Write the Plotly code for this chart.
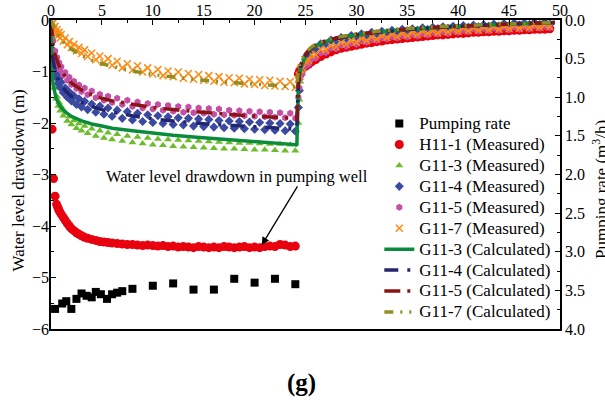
import plotly.graph_objects as go

# ---------------- data ----------------
# pumping period times (h) used for the observation wells
t_pump = [0.05, 0.1, 0.2, 0.3, 0.4, 0.5, 0.6, 0.7, 0.8, 0.9, 1.0, 1.2, 1.4, 1.6, 1.8, 2.0,
          2.25, 2.5, 2.75, 3.0, 3.3, 3.6, 4.0, 4.4, 4.8, 5.2, 5.6, 6.0, 6.5, 7.0, 7.5, 8.0,
          8.5, 9.0, 9.5, 10.0, 10.5, 11.0, 11.5, 12.0, 12.5, 13.0, 13.5, 14.0, 14.5, 15.0,
          15.5, 16.0, 16.5, 17.0, 17.5, 18.0, 18.5, 19.0, 19.5, 20.0, 20.5, 21.0, 21.5,
          22.0, 22.5, 23.0, 23.5, 24.0]
# recovery period times (h)
t_rec = [24.3, 24.4, 24.5, 24.7, 25.0, 25.3, 25.6, 26.0, 26.5, 27.0, 27.5, 28.0, 28.5,
         29.0, 29.5, 30.0, 30.5, 31.0, 31.5, 32.0, 32.5, 33.0, 33.5, 34.0, 34.5, 35.0,
         35.5, 36.0, 36.5, 37.0, 37.5, 38.0, 38.5, 39.0, 39.5, 40.0, 40.5, 41.0, 41.5,
         42.0, 42.5, 43.0, 43.5, 44.0, 44.5, 45.0, 45.5, 46.0, 46.5, 47.0, 47.5, 48.0,
         48.5, 49.0]
# pumping well H11-1 times (pumping part)
t_h11_pump = [0.1, 0.25, 0.4, 0.55, 0.65, 0.75, 0.85, 1.0, 1.2, 1.4, 1.6, 1.8, 2.0, 2.25,
              2.5, 2.75, 3.0, 3.3, 3.6, 4.0, 4.4, 4.8, 5.2, 5.6, 6.0, 6.5, 7.0, 7.5, 8.0,
              8.5, 9.0, 9.5, 10.0, 10.5, 11.0, 11.5, 12.0, 12.5, 13.0, 13.5, 14.0, 14.5,
              15.0, 15.5, 16.0, 16.5, 17.0, 17.5, 18.0, 18.5, 19.0, 19.5, 20.0, 20.5, 21.0,
              21.5, 22.0, 22.5, 23.0, 23.5, 24.0]

h11_pump = [-2.12, -3.08, -3.42, -3.58, -3.63, -3.68, -3.72, -3.77, -3.83, -3.89, -3.95,
            -4.0, -4.05, -4.09, -4.13, -4.16, -4.19, -4.22, -4.24, -4.26, -4.28, -4.3, -4.31,
            -4.32, -4.33, -4.34, -4.35, -4.36, -4.36, -4.37, -4.38, -4.37, -4.38, -4.39,
            -4.38, -4.4, -4.39, -4.41, -4.4, -4.41, -4.42, -4.4, -4.41, -4.42, -4.41, -4.42,
            -4.4, -4.41, -4.42, -4.41, -4.4, -4.42, -4.41, -4.42, -4.4, -4.39, -4.4, -4.36,
            -4.37, -4.4, -4.39]
h11_rec = [-1.05, -1.0, -0.97, -0.93, -0.9, -0.86, -0.81, -0.77, -0.71, -0.66, -0.62, -0.58,
           -0.55, -0.53, -0.51, -0.49, -0.47, -0.45, -0.44, -0.42, -0.41, -0.39, -0.38, -0.37,
           -0.36, -0.35, -0.34, -0.33, -0.32, -0.31, -0.3, -0.29, -0.29, -0.28, -0.27, -0.26,
           -0.26, -0.25, -0.24, -0.24, -0.23, -0.23, -0.22, -0.22, -0.21, -0.21, -0.2, -0.2,
           -0.19, -0.19, -0.18, -0.18, -0.18, -0.17]

g113_pump = [-0.45, -0.81, -0.99, -1.31, -1.32, -1.53, -1.49, -1.67, -1.6, -1.76, -1.68, -1.86,
             -1.8, -1.96, -1.88, -2.03, -1.95, -2.1, -2.01, -2.15, -2.06, -2.2, -2.11, -2.25,
             -2.15, -2.29, -2.19, -2.32, -2.22, -2.35, -2.25, -2.38, -2.27, -2.4, -2.29, -2.42,
             -2.31, -2.43, -2.32, -2.45, -2.33, -2.46, -2.34, -2.47, -2.35, -2.48, -2.36, -2.49,
             -2.37, -2.5, -2.38, -2.5, -2.39, -2.51, -2.39, -2.52, -2.4, -2.52, -2.41, -2.53,
             -2.41, -2.54, -2.42, -2.54]
g113_rec = [-2.0, -1.55, -1.2, -0.97, -0.8, -0.7, -0.62, -0.55, -0.49, -0.45, -0.41, -0.38,
            -0.36, -0.34, -0.32, -0.3, -0.29, -0.27, -0.26, -0.25, -0.24, -0.23, -0.22, -0.21,
            -0.2, -0.19, -0.18, -0.18, -0.17, -0.16, -0.16, -0.15, -0.14, -0.14, -0.13, -0.13,
            -0.12, -0.12, -0.11, -0.11, -0.1, -0.1, -0.1, -0.09, -0.09, -0.09, -0.08, -0.08,
            -0.08, -0.07, -0.07, -0.07, -0.06, -0.06]

g114_pump = [-0.3, -0.57, -0.65, -0.93, -0.89, -1.11, -1.03, -1.23, -1.13, -1.31, -1.21, -1.41,
             -1.32, -1.5, -1.4, -1.57, -1.47, -1.64, -1.53, -1.69, -1.58, -1.74, -1.63, -1.79,
             -1.67, -1.83, -1.71, -1.87, -1.75, -1.91, -1.78, -1.94, -1.81, -1.97, -1.84, -1.99,
             -1.86, -2.01, -1.88, -2.03, -1.9, -2.04, -1.91, -2.06, -1.92, -2.07, -1.93, -2.08,
             -1.95, -2.09, -1.96, -2.1, -1.97, -2.11, -1.98, -2.12, -1.99, -2.13, -2.0, -2.14,
             -2.01, -2.15, -2.02, -2.16]
g114_rec = [-1.7, -1.37, -1.08, -0.94, -0.76, -0.7, -0.58, -0.56, -0.46, -0.46, -0.39, -0.4,
            -0.34, -0.36, -0.3, -0.32, -0.27, -0.3, -0.24, -0.27, -0.22, -0.25, -0.2, -0.23,
            -0.18, -0.21, -0.17, -0.2, -0.15, -0.19, -0.14, -0.17, -0.13, -0.16, -0.12, -0.15,
            -0.11, -0.14, -0.1, -0.13, -0.09, -0.12, -0.08, -0.12, -0.07, -0.11, -0.06, -0.1,
            -0.06, -0.09, -0.05, -0.09, -0.04, -0.08]

g115_pump = [-0.15, -0.35, -0.41, -0.61, -0.6, -0.77, -0.73, -0.88, -0.83, -0.97, -0.91, -1.07,
             -1.02, -1.17, -1.11, -1.25, -1.19, -1.33, -1.26, -1.39, -1.32, -1.45, -1.38, -1.51,
             -1.44, -1.56, -1.48, -1.6, -1.52, -1.64, -1.56, -1.68, -1.59, -1.71, -1.62, -1.73,
             -1.64, -1.75, -1.66, -1.77, -1.68, -1.79, -1.69, -1.8, -1.71, -1.81, -1.72, -1.83,
             -1.73, -1.84, -1.75, -1.85, -1.76, -1.86, -1.77, -1.87, -1.78, -1.88, -1.79, -1.89,
             -1.8, -1.9, -1.81, -1.91]
g115_rec = [-1.5, -1.32, -1.13, -1.04, -0.9, -0.86, -0.76, -0.74, -0.64, -0.63, -0.55, -0.56,
            -0.49, -0.51, -0.45, -0.47, -0.41, -0.43, -0.38, -0.4, -0.35, -0.37, -0.32, -0.35,
            -0.3, -0.33, -0.28, -0.31, -0.26, -0.29, -0.24, -0.27, -0.23, -0.26, -0.21, -0.24,
            -0.2, -0.23, -0.18, -0.22, -0.17, -0.21, -0.16, -0.2, -0.15, -0.19, -0.14, -0.18,
            -0.13, -0.17, -0.12, -0.16, -0.12, -0.15]

g117_pump = [-0.02, -0.07, -0.06, -0.17, -0.12, -0.25, -0.19, -0.3, -0.24, -0.35, -0.28, -0.41,
             -0.35, -0.48, -0.42, -0.54, -0.47, -0.6, -0.53, -0.65, -0.58, -0.71, -0.64, -0.77,
             -0.7, -0.83, -0.75, -0.88, -0.8, -0.93, -0.85, -0.97, -0.89, -1.01, -0.93, -1.05,
             -0.96, -1.08, -0.99, -1.1, -1.01, -1.13, -1.04, -1.15, -1.06, -1.17, -1.08, -1.19,
             -1.1, -1.21, -1.12, -1.22, -1.13, -1.24, -1.15, -1.25, -1.16, -1.27, -1.17, -1.28,
             -1.19, -1.29, -1.2, -1.31]
g117_rec = [-1.15, -1.08, -0.96, -0.93, -0.8, -0.78, -0.68, -0.67, -0.57, -0.58, -0.5, -0.52,
            -0.44, -0.47, -0.4, -0.43, -0.36, -0.4, -0.33, -0.37, -0.31, -0.34, -0.28, -0.32,
            -0.26, -0.3, -0.24, -0.28, -0.22, -0.26, -0.21, -0.25, -0.19, -0.23, -0.18, -0.22,
            -0.16, -0.21, -0.15, -0.2, -0.14, -0.19, -0.13, -0.18, -0.12, -0.17, -0.11, -0.16,
            -0.11, -0.15, -0.1, -0.14, -0.09, -0.13]

# calculated curves
t_calc = [0, 0.05, 0.1, 0.2, 0.35, 0.5, 0.75, 1, 1.5, 2, 3, 4, 5, 6, 8, 10, 12, 14, 16, 18,
          20, 22, 24, 24.15, 24.3, 24.5, 25, 25.5, 26, 27, 28, 29, 30, 32, 34, 36, 38, 40,
          42, 44, 46, 48, 49.5]
g113_calc = [0, -0.7, -1.0, -1.25, -1.42, -1.52, -1.62, -1.7, -1.8, -1.87, -1.96, -2.02, -2.06,
             -2.1, -2.15, -2.2, -2.24, -2.27, -2.3, -2.33, -2.36, -2.39, -2.42, -2.44, -1.3,
             -0.95, -0.7, -0.57, -0.5, -0.42, -0.36, -0.32, -0.29, -0.24, -0.2, -0.17, -0.14,
             -0.12, -0.1, -0.09, -0.07, -0.06, -0.05]
g114_calc = [0, -0.35, -0.55, -0.78, -0.95, -1.06, -1.18, -1.27, -1.39, -1.48, -1.6, -1.68,
             -1.74, -1.79, -1.86, -1.92, -1.96, -2.0, -2.03, -2.05, -2.07, -2.09, -2.11, -2.12,
             -1.25, -0.92, -0.68, -0.56, -0.49, -0.41, -0.36, -0.32, -0.29, -0.24, -0.2, -0.17,
             -0.14, -0.12, -0.1, -0.09, -0.07, -0.06, -0.05]
g115_calc = [0, -0.2, -0.33, -0.5, -0.65, -0.75, -0.87, -0.98, -1.12, -1.22, -1.36, -1.45,
             -1.52, -1.57, -1.64, -1.7, -1.74, -1.78, -1.81, -1.84, -1.87, -1.89, -1.91, -1.92,
             -1.15, -0.88, -0.66, -0.55, -0.48, -0.4, -0.35, -0.31, -0.28, -0.23, -0.19, -0.16,
             -0.14, -0.12, -0.1, -0.08, -0.07, -0.06, -0.05]
g117_calc = [0, -0.03, -0.06, -0.11, -0.18, -0.24, -0.32, -0.38, -0.49, -0.57, -0.69, -0.78,
             -0.85, -0.9, -0.99, -1.06, -1.11, -1.15, -1.19, -1.22, -1.25, -1.28, -1.3, -1.3,
             -0.95, -0.8, -0.64, -0.54, -0.47, -0.39, -0.34, -0.3, -0.27, -0.22, -0.18, -0.15,
             -0.13, -0.11, -0.09, -0.08, -0.07, -0.06, -0.05]

# pumping rate (m3/h)
t_q = [0.4, 1.1, 1.5, 2.0, 2.5, 3.0, 3.5, 4.0, 4.4, 4.9, 5.5, 6.0, 6.5, 7.0, 8.0, 10.0, 12.0,
       14.0, 16.0, 18.0, 20.0, 22.0, 24.0]
q_rate = [3.74, 3.67, 3.64, 3.74, 3.61, 3.54, 3.57, 3.59, 3.52, 3.55, 3.61, 3.55, 3.53, 3.51,
          3.48, 3.44, 3.41, 3.49, 3.49, 3.35, 3.40, 3.35, 3.42]

x_ticks = [0, 5, 10, 15, 20, 25, 30, 35, 40, 45, 50]
y_ticks = [-6, -5, -4, -3, -2, -1, 0]
y2_ticks = [0.0, 0.5, 1.0, 1.5, 2.0, 2.5, 3.0, 3.5, 4.0]

# ---------------- figure ----------------
FONT = "Liberation Serif, Times New Roman, serif"


def lg(name):
    return "<span style='font-size:17px'>" + name + "</span>"


fig = go.Figure()

fig.add_trace(go.Scatter(x=t_q, y=q_rate, yaxis="y2", mode="markers", name=lg("Pumping rate"),
                         marker=dict(symbol="square", size=8, color="black")))
fig.add_trace(go.Scatter(x=t_h11_pump + t_rec, y=h11_pump + h11_rec, mode="markers",
                         name=lg("H11-1 (Measured)"),
                         marker=dict(symbol="circle", size=9, color="#e8000f")))
fig.add_trace(go.Scatter(x=t_pump + t_rec, y=g113_pump + g113_rec, mode="markers",
                         name=lg("G11-3 (Measured)"),
                         marker=dict(symbol="triangle-up", size=7, color="#6cbd2b")))
fig.add_trace(go.Scatter(x=t_pump + t_rec, y=g114_pump + g114_rec, mode="markers",
                         name=lg("G11-4 (Measured)"),
                         marker=dict(symbol="diamond", size=7, color="#3a4aa0")))
fig.add_trace(go.Scatter(x=t_pump + t_rec, y=g115_pump + g115_rec, mode="markers",
                         name=lg("G11-5 (Measured)"),
                         marker=dict(symbol="hexagon", size=7, color="#c44fa4")))
fig.add_trace(go.Scatter(x=t_pump + t_rec, y=g117_pump + g117_rec, mode="markers",
                         name=lg("G11-7 (Measured)"),
                         marker=dict(symbol="x-thin", size=7, color="#ff8a10",
                                     line=dict(width=1.5, color="#ff8a10"))))
fig.add_trace(go.Scatter(x=t_calc, y=g113_calc, mode="lines", name=lg("G11-3 (Calculated)"),
                         line=dict(color="#0b8c3c", width=3.5)))
fig.add_trace(go.Scatter(x=t_calc, y=g114_calc, mode="lines", name=lg("G11-4 (Calculated)"),
                         line=dict(color="#23256f", width=3.5, dash="14px,9px,3px,9px")))
fig.add_trace(go.Scatter(x=t_calc, y=g115_calc, mode="lines", name=lg("G11-5 (Calculated)"),
                         line=dict(color="#8a1414", width=3.5, dash="16px,7px,3px,7px")))
fig.add_trace(go.Scatter(x=t_calc, y=g117_calc, mode="lines", name=lg("G11-7 (Calculated)"),
                         line=dict(color="#8e8e22", width=3.5,
                                   dash="9px,7px,2px,7px,2px,7px")))

axis_common = dict(showgrid=False, zeroline=False, showline=True, linecolor="black",
                   linewidth=1.5, ticks="inside", ticklen=5, tickwidth=1.2,
                   tickcolor="black", tickfont=dict(family=FONT, size=16, color="black"))

fig.update_layout(
    width=605, height=412,
    margin=dict(l=51, r=45, t=20, b=83, autoexpand=False),
    paper_bgcolor="white", plot_bgcolor="white",
    showlegend=True,
    xaxis=dict(range=[0, 50], side="top", tickvals=x_ticks, mirror=True,
               ticklabelstandoff=-4,
               minor=dict(ticks="inside", ticklen=3, dtick=2.5, tickcolor="black"),
               **axis_common),
    yaxis=dict(range=[-6, 0], tickvals=y_ticks, ticklabelstandoff=-3,
               minor=dict(ticks="inside", ticklen=3, dtick=0.5, tickcolor="black"),
               **axis_common),
    yaxis2=dict(range=[4, 0], overlaying="y", side="right", tickvals=y2_ticks,
                tickformat=".1f",
                minor=dict(ticks="inside", ticklen=3, dtick=0.25, tickcolor="black"),
                **axis_common),
    legend=dict(x=0.645, y=0.715, xanchor="left", yanchor="top",
                bgcolor="rgba(0,0,0,0)", font=dict(family=FONT, size=13.8, color="black"),
                tracegroupgap=0, itemwidth=30),
    font=dict(family=FONT, color="black"),
)

# annotation with arrow
fig.add_annotation(x=20.7, y=-4.37, ax=24.3, ay=-3.2, xref="x", yref="y",
                   axref="x", ayref="y", text="", showarrow=True, arrowhead=2,
                   arrowsize=1.2, arrowwidth=1.3, arrowcolor="black")
fig.add_annotation(x=18.3, y=-3.03, xref="x", yref="y", showarrow=False,
                   xanchor="center", yanchor="middle",
                   text="Water level drawdown in pumping well",
                   font=dict(family=FONT, size=16.5, color="black"))
# axis titles
fig.add_annotation(x=-0.064, y=0.482, xref="paper", yref="paper", showarrow=False,
                   xanchor="center", yanchor="middle",
                   text="Water level drawdown (m)", textangle=-90,
                   font=dict(family=FONT, size=17, color="black"))
fig.add_annotation(x=1.0786, y=0.45, xref="paper", yref="paper", showarrow=False,
                   xanchor="center", yanchor="middle",
                   text="Pumping rate (m<sup>3</sup>/h)", textangle=-90,
                   font=dict(family=FONT, size=17, color="black"))
# panel label
fig.add_annotation(x=0.493, y=-0.175, xref="paper", yref="paper", showarrow=False,
                   xanchor="center", yanchor="middle",
                   text="<b>(g)</b>", font=dict(family=FONT, size=25, color="black"))

fig.write_html("out.html")
